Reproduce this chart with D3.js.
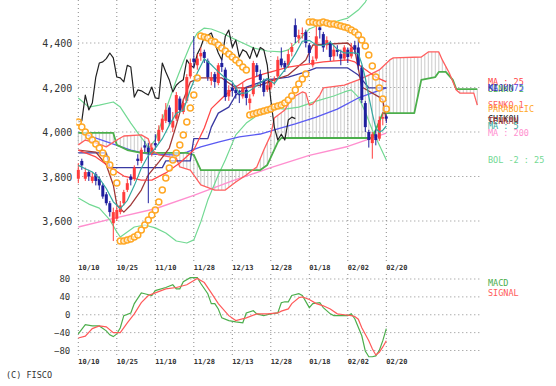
<!DOCTYPE html>
<html>
<head>
<meta charset="utf-8">
<script src="https://cdn.jsdelivr.net/npm/d3@7"></script>
<style>
body { margin: 0; background: #fff; }
svg { display: block; font-family: "DejaVu Sans Mono", monospace; }
</style>
</head>
<body>
<script>

// ---- data (day index 0 = 10/10) ----
const dateIdx = [0, 11, 22, 33, 44, 55, 66, 77, 88]
const dateLabels = ['10/10', '10/25', '11/10', '11/28', '12/13', '12/28', '01/18', '02/02', '02/20']
const priceTicks = [3600, 3800, 4000, 4200, 4400]
const macdTicks = [-80, -40, 0, 40, 80]

const open = [3790,3870,3790,3820,3780,3810,3790,3760,3720,3680,
	3590,3610,3640,3680,3740,3800,3790,3880,3870,3940,
	3930,3900,3950,3960,4010,4050,4110,4020,4060,4150,
	4090,4140,4250,4330,4300,4340,4360,4320,4230,4260,
	4220,4310,4280,4160,4200,4190,4170,4160,4190,4130,
	4170,4300,4260,4230,4190,4200,4230,4250,4330,4310,
	4300,4360,4480,4420,4440,4450,4390,4300,4330,4470,
	4440,4390,4400,4340,4370,4350,4330,4370,4340,4390,
	4380,4290,4130,4000,3950,3990,3970,4060,4070]
const high = [3860,3880,3840,3830,3820,3820,3800,3770,3730,3690,
	3660,3670,3690,3740,3790,3810,3850,3900,3930,3960,
	3950,3950,3990,4030,4080,4130,4120,4090,4180,4160,
	4150,4260,4330,4430,4350,4380,4370,4330,4270,4270,
	4310,4330,4290,4210,4220,4210,4190,4220,4200,4170,
	4320,4310,4280,4240,4230,4240,4250,4340,4380,4320,
	4370,4400,4510,4460,4470,4460,4400,4340,4480,4490,
	4450,4430,4410,4390,4390,4370,4390,4380,4400,4410,
	4430,4300,4140,4010,4000,4010,4070,4090,4080]
const low = [3770,3830,3780,3780,3770,3760,3740,3700,3670,3620,
	3510,3600,3630,3670,3730,3760,3780,3850,3860,3910,
	3680,3890,3920,3950,4000,4040,4030,4000,4050,4090,
	4080,4130,4240,4290,4280,4320,4310,4230,4210,4200,
	4210,4270,4140,4140,4160,4150,4130,4150,4120,4100,
	4160,4250,4200,4160,4180,4190,4210,4240,4290,4270,
	4290,4340,4400,4400,4420,4380,4310,4290,4320,4420,
	4360,4370,4320,4320,4340,4300,4320,4310,4330,4350,
	4280,4130,4000,3930,3880,3940,3960,4030,4040]
const close = [3830,3850,3820,3800,3800,3780,3760,3710,3680,3640,
	3640,3650,3670,3730,3770,3785,3840,3870,3920,3930,
	3910,3930,3940,4010,4060,4100,4045,4050,4166,4099,
	4130,4247,4310,4315,4330,4355,4333,4247,4243,4225,
	4300,4292,4157,4189,4185,4175,4166,4202,4153,4150,
	4310,4270,4234,4180,4210,4225,4235,4324,4300,4290,
	4350,4382,4427,4435,4445,4400,4355,4324,4430,4458,
	4380,4413,4337,4370,4360,4330,4380,4337,4380,4370,
	4300,4144,4022,3964,3990,3964,4054,4067,4060]

// [day index, value]
const ma5 = [[0,3850],[2,3835],[4,3820],[6,3792],[8,3746],[10,3686],[12,3656],[14,3692],[16,3759],[18,3837],
	[20,3894],[22,3926],[24,3970],[26,4031],[28,4084],[30,4098],[32,4190],[34,4266],[36,4329],[38,4302],
	[40,4270],[42,4243],[44,4225],[46,4174],[48,4176],[50,4196],[52,4223],[54,4241],[56,4217],[58,4259],
	[60,4300],[62,4350],[64,4408],[66,4412],[68,4391],[70,4389],[72,4404],[74,4372],[76,4355],[78,4357],
	[80,4353],[81,4306],[82,4243],[83,4160],[84,4084],[85,4017],[86,3999],[87,4008],[88,4027]]
const ma25 = [[0,3919],[5,3888],[9,3843],[13,3802],[18,3784],[21,3784],[25,3816],[29,3861],[33,3919],[36,4018],
	[38,4105],[42,4166],[45,4202],[48,4234],[53,4261],[60,4292],[66,4306],[70,4315],[77,4324],[79,4315],
	[81,4292],[85,4247],[88,4225]]
const ma75 = [[0,4000],[9,3951],[15,3919],[20,3901],[27,3897],[31,3910],[35,3933],[40,3955],[46,3978],[52,3991],
	[57,4014],[62,4036],[68,4067],[74,4103],[80,4153],[88,4198]]
const ma200 = [[0,3573],[11,3615],[22,3655],[33,3715],[44,3780],[55,3840],[66,3895],[77,3935],[88,3995]]
const bolUp = [[0,4153],[3,4112],[6,4121],[10,4135],[12,4112],[15,4040],[17,3996],[19,3955],[20,3928],[22,3964],
	[24,4054],[26,4144],[28,4234],[30,4315],[32,4391],[34,4445],[36,4467],[38,4463],[41,4445],[44,4422],
	[47,4400],[50,4378],[54,4364],[58,4360],[60,4369],[63,4413],[66,4463],[70,4490],[74,4499],[77,4512],
	[80,4548],[82,4584],[84,4640],[86,4690],[88,4730]]
const bolDn = [[0,3703],[3,3676],[6,3658],[9,3605],[11,3551],[12,3528],[14,3551],[16,3573],[19,3582],[22,3569],
	[25,3546],[28,3510],[31,3501],[33,3515],[35,3596],[37,3694],[40,3807],[42,3874],[45,3987],[48,4040],
	[52,4085],[56,4108],[59,4103],[63,4112],[68,4139],[73,4162],[76,4180],[78,4189],[80,4157],[82,4090],
	[84,4009],[86,3942],[88,3874]]
const tenkan = [[0,3919],[5,3910],[8,3852],[10,3762],[11,3672],[13,3640],[15,3672],[18,3739],[20,3807],[23,3865],
	[26,3928],[28,4031],[30,4144],[32,4225],[35,4243],[41,4243],[45,4198],[48,4198],[52,4211],[56,4234],
	[60,4256],[65,4324],[67,4391],[77,4400],[79,4369],[81,4202],[86,4157],[87,4144],[88,4050]]
const kijun = [[0,3906],[8,3906],[9,3840],[24,3840],[25,3870],[32,3870],[33,3970],[37,3970],[38,4022],[40,4085],
	[43,4112],[45,4166],[48,4202],[54,4234],[60,4247],[65,4270],[68,4288],[77,4288],[80,4256],[83,4198],
	[88,4198]]
const senko1 = [[0,3942],[2,3964],[5,3951],[8,3933],[11,3964],[13,3982],[18,3987],[20,3969],[21,3919],[23,3897],
	[28,3883],[29,3843],[32,3829],[35,3762],[39,3739],[42,3739],[45,3775],[48,3807],[51,3843],[53,3919],
	[55,3987],[56,4063],[59,4099],[61,4153],[64,4180],[65,4175],[66,4121],[67,4126],[69,4166],[70,4198],
	[76,4211],[80,4234],[83,4256],[86,4279],[89,4324],[90,4333],[98,4337],[100,4360],[103,4360],[104,4324],
	[106,4265],[108,4189],[109,4175],[113,4175],[114,4121]]
const senko2 = [[0,3996],[10,3996],[11,3942],[14,3919],[18,3906],[31,3906],[33,3897],[35,3829],[52,3829],[54,3852],
	[57,3955],[58,3973],[84,3973],[87,4085],[96,4085],[98,4234],[102,4247],[103,4270],[105,4270],[107,4234],
	[108,4193],[114,4193]]
const sar = [4045,4022,4000,3982,3964,3946,3928,3906,3879,3852,
	3820,3771,3510,3510,3515,3519,3528,3537,3560,3582,
	3605,3627,3650,3685,3739,3793,3838,3874,3906,3942,
	3987,4045,4108,4166,4243,4431,4427,4422,4409,4404,
	4391,4378,4364,4351,4337,4324,4310,4292,4279,4076,
	4081,4085,4090,4094,4099,4103,4112,4117,4121,4130,
	4144,4162,4189,4216,4238,4261,4494,4494,4490,4490,
	4494,4490,4485,4485,4481,4476,4472,4467,4458,4449,
	4436,4413,4387,4346,4297,4247,4198,4148,4103]
const macd = [[0,-43],[2,-22],[4,-25],[6,-25],[8,-36],[9,-45],[10,-49],[11,-43],[12,-29],[13,-2],
	[15,4],[16,25],[18,49],[19,47],[21,43],[22,54],[25,61],[27,67],[28,58],[29,58],
	[30,74],[32,83],[34,83],[35,70],[37,47],[38,25],[39,25],[40,13],[41,-7],[43,-13],
	[45,-16],[47,-18],[48,4],[50,9],[51,2],[53,-2],[54,0],[55,2],[57,4],[58,27],
	[59,29],[60,29],[61,43],[63,47],[64,43],[66,16],[67,25],[69,27],[70,16],[72,2],
	[73,-2],[75,-2],[77,-2],[78,2],[79,-9],[81,-47],[82,-81],[83,-94],[84,-94],[85,-92],
	[86,-80],[87,-58],[88,-31]]
const signal = [[0,-52],[2,-48],[4,-31],[6,-25],[8,-27],[10,-40],[12,-40],[14,-18],[16,2],[18,27],
	[20,43],[22,49],[25,58],[28,61],[31,67],[34,81],[36,72],[38,49],[40,25],[43,-2],
	[45,-13],[48,-7],[51,2],[54,2],[57,4],[58,8],[60,13],[61,25],[63,38],[64,40],
	[66,34],[68,25],[70,20],[72,13],[74,2],[76,0],[78,-2],[79,-4],[80,-10],[81,-29],
	[83,-58],[84,-76],[85,-90],[86,-84],[87,-72],[88,-58]]

// ---- layout ----
const W = 556, H = 386
const svg = d3.select('body').append('svg').attr('width', W).attr('height', H)

const x = d3.scaleLinear().domain([0, 88]).range([78.3, 386.3])
const y = d3.scaleLinear().domain([3600, 4400]).range([221, 43])
const ym = d3.scaleLinear().domain([-80, 80]).range([350.5, 279])
const xEnd = x(114.8)

svg.append('defs').append('clipPath')
	.attr('id', 'clip')
	.append('rect')
		.attr('x', x(0) - 2).attr('y', 0)
		.attr('width', xEnd - x(0) + 4).attr('height', 262)

// grid
const grid = svg.append('g')
	.attr('stroke', '#8a8a8a')
	.attr('stroke-width', 1)
	.attr('stroke-dasharray', '1,3')

grid.selectAll('.gv').data(dateIdx).join('line')
	.attr('x1', d => x(d)).attr('x2', d => x(d))
	.attr('y1', 0).attr('y2', 262)
grid.selectAll('.gh').data(priceTicks).join('line')
	.attr('x1', x(0)).attr('x2', xEnd)
	.attr('y1', d => y(d)).attr('y2', d => y(d))
grid.selectAll('.mv').data(dateIdx).join('line')
	.attr('x1', d => x(d)).attr('x2', d => x(d))
	.attr('y1', 274).attr('y2', 358)
grid.selectAll('.mh').data(macdTicks).join('line')
	.attr('x1', x(0)).attr('x2', xEnd)
	.attr('y1', d => ym(d)).attr('y2', d => ym(d))

// y axes (labels only)
svg.append('g')
	.attr('transform', `translate(${x(0)},0)`)
	.call(d3.axisLeft(y).tickValues(priceTicks).tickFormat(d3.format(',')).tickSize(0).tickPadding(6))
	.call(g => g.select('.domain').remove())
	.attr('font-family', '"DejaVu Sans Mono", monospace')
	.attr('font-size', 10)
	.selectAll('text').attr('fill', '#333').attr('dy', '0.35em')

svg.append('g')
	.attr('transform', `translate(${x(0) - 1},0)`)
	.call(d3.axisLeft(ym).tickValues(macdTicks).tickSize(0).tickPadding(7))
	.call(g => g.select('.domain').remove())
	.attr('font-family', '"DejaVu Sans Mono", monospace')
	.attr('font-size', 9)
	.selectAll('text').attr('fill', '#333')

// date labels
;[268, 362].forEach(yy => {
	svg.append('g').selectAll('text').data(dateIdx).join('text')
		.attr('x', d => x(d))
		.attr('y', yy)
		.attr('dy', '0.35em')
		.attr('font-size', 7)
		.attr('font-weight', 'bold')
		.attr('fill', '#333')
		.text((d, i) => dateLabels[i])
})

const plot = svg.append('g').attr('clip-path', 'url(#clip)')

const line = d3.line().x(d => x(d[0])).y(d => y(d[1]))
const at = (pairs, j) => {
	const k = d3.bisector(d => d[0]).right(pairs, j)
	if (k <= 0) return pairs[0][1]
	if (k >= pairs.length) return pairs[pairs.length - 1][1]
	const a = pairs[k - 1], b = pairs[k]
	return a[1] + (b[1] - a[1]) * (j - a[0]) / (b[0] - a[0])
}

// ichimoku cloud hatch
plot.append('g')
	.attr('stroke', '#bdbdbd')
	.attr('stroke-width', 0.8)
	.selectAll('line').data(d3.range(0, 115)).join('line')
		.attr('x1', d => x(d)).attr('x2', d => x(d))
		.attr('y1', d => y(at(senko1, d)))
		.attr('y2', d => y(at(senko2, d)))

const series = [
	{ data: ma200, color: '#ff8fcf', w: 1.4 },
	{ data: bolUp, color: '#72d993', w: 1.2 },
	{ data: bolDn, color: '#72d993', w: 1.2 },
	{ data: ma75, color: '#5a5af2', w: 1.3 },
	{ data: senko2, color: '#4caf4c', w: 1.8 },
	{ data: senko1, color: '#ff5f5f', w: 1.3 },
	{ data: kijun, color: '#3a3aa2', w: 1.3 },
	{ data: tenkan, color: '#a03a3a', w: 1.3 },
	{ data: ma25, color: '#ff4848', w: 1.3 },
	{ data: close.slice(26).map((c, k) => [k, c]), color: '#222', w: 1.2 }
]

plot.selectAll('.ser').data(series).join('path')
	.attr('fill', 'none')
	.attr('stroke', d => d.color)
	.attr('stroke-width', d => d.w)
	.attr('stroke-linejoin', 'round')
	.attr('d', d => line(d.data))

// candles
const candles = plot.append('g')
const up = i => close[i] >= open[i]
candles.selectAll('.wick').data(d3.range(close.length)).join('line')
	.attr('x1', i => x(i)).attr('x2', i => x(i))
	.attr('y1', i => y(high[i])).attr('y2', i => y(low[i]))
	.attr('stroke', i => up(i) ? '#ff3c3c' : '#1e1e9e')
	.attr('stroke-width', 1)
candles.selectAll('.body').data(d3.range(close.length)).join('rect')
	.attr('x', i => x(i) - 1.5)
	.attr('width', 3)
	.attr('y', i => y(Math.max(open[i], close[i])))
	.attr('height', i => Math.max(1, Math.abs(y(open[i]) - y(close[i]))))
	.attr('fill', i => up(i) ? '#ff3c3c' : '#1e1e9e')

// MA 5
plot.append('path')
	.attr('fill', 'none')
	.attr('stroke', '#35a9a0')
	.attr('stroke-width', 1.2)
	.attr('d', line(ma5))

// parabolic
plot.append('g').selectAll('circle').data(sar).join('circle')
	.attr('cx', (d, i) => x(i))
	.attr('cy', d => y(d))
	.attr('r', 3)
	.attr('fill', '#fff')
	.attr('fill-opacity', 0.6)
	.attr('stroke', '#ffa826')
	.attr('stroke-width', 1.5)

// MACD
const mline = d3.line().x(d => x(d[0])).y(d => ym(d[1]))
svg.append('path').attr('fill', 'none').attr('stroke', '#4cae4c').attr('stroke-width', 1.2).attr('d', mline(macd))
svg.append('path').attr('fill', 'none').attr('stroke', '#ff5a5a').attr('stroke-width', 1.2).attr('d', mline(signal))

// labels placed at each series' last value
const last = a => a[a.length - 1][1]
const legend = [
	{ name: 'MA : 25', color: '#ff4848', v: last(ma25) },
	{ name: 'SENKO 2', color: '#4caf4c', v: last(senko2) },
	{ name: 'MA : 75', color: '#5a5af2', v: last(ma75) },
	{ name: 'KIJUN', color: '#3a3aa2', v: last(kijun) },
	{ name: 'SENKO 1', color: '#ff5f5f', v: last(senko1) },
	{ name: 'PARABOLIC', color: '#ffa826', v: sar[sar.length - 1] },
	{ name: 'CHIKOU', color: '#222', v: close[close.length - 1] },
	{ name: 'TENKAN', color: '#a03a3a', v: last(tenkan) },
	{ name: 'MA : 5', color: '#35a9a0', v: last(ma5) },
	{ name: 'MA : 200', color: '#ff8fcf', v: last(ma200) },
	{ name: 'BOL -2 : 25', color: '#72d993', v: last(bolDn) }
]
svg.append('g').selectAll('text').data(legend).join('text')
	.attr('x', 488)
	.attr('y', d => y(d.v))
	.attr('dy', '0.35em')
	.attr('font-size', 8.5)
	.attr('fill', d => d.color)
	.text(d => d.name)

svg.append('text').attr('x', 488).attr('y', 283).attr('dy', '0.35em')
	.attr('font-size', 8.5).attr('fill', '#4cae4c').text('MACD')
svg.append('text').attr('x', 488).attr('y', 293).attr('dy', '0.35em')
	.attr('font-size', 8.5).attr('fill', '#ff5a5a').text('SIGNAL')

svg.append('text').attr('x', 6).attr('y', 375).attr('dy', '0.35em')
	.attr('font-size', 8.5).attr('fill', '#333').text('(C) FISCO')

</script>
</body>
</html>
